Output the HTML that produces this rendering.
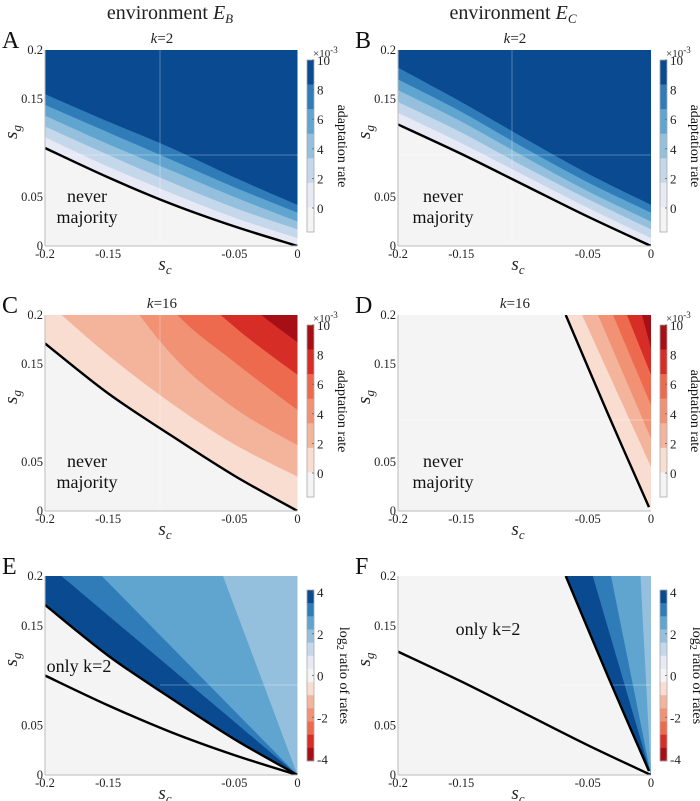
<!DOCTYPE html>
<html><head><meta charset="utf-8"><style>
html,body{margin:0;padding:0;background:#fff}
svg{display:block;font-family:"Liberation Serif",serif}
</style></head><body>
<svg id="fig" width="700" height="801" viewBox="0 0 700 801" xmlns="http://www.w3.org/2000/svg">
<rect width="700" height="801" fill="#fff"/>
<defs id="defs"></defs>
<g id="root"></g>
<text x="170" y="19" font-size="20" text-anchor="middle" fill="#222">environment <tspan font-style="italic">E</tspan><tspan font-size="13" dy="4" font-style="italic">B</tspan></text>
<text x="513" y="19" font-size="20" text-anchor="middle" fill="#222">environment <tspan font-style="italic">E</tspan><tspan font-size="13" dy="4" font-style="italic">C</tspan></text>
</svg>
<script>
// ---------- data ----------
const scGrid = [-0.2, -0.15, -0.1, -0.05, 0];
const xTickVals = [-0.2, -0.15, -0.05, 0];
const xTickLabels = ["-0.2", "-0.15", "-0.05", "0"];
const yTickVals = [0.2, 0.15, 0.05, 0];
const yTickLabels = ["0.2", "0.15", "0.05", "0"];

// Panel A contour boundaries (sg at scGrid), lowest level first
const aBoundary = [0.100, 0.070, 0.043, 0.020, 0.000];
const aLevel1 = [0.111, 0.081, 0.054, 0.029, 0.008];
const aLevel2 = [0.122, 0.093, 0.065, 0.039, 0.017];
const aLevel3 = [0.133, 0.104, 0.077, 0.050, 0.025];
const aLevel4 = [0.144, 0.116, 0.088, 0.060, 0.034];
const aLevel5 = [0.155, 0.127, 0.100, 0.070, 0.042];

// Panel B
const bBoundary = [0.124, 0.094, 0.062, 0.030, 0.000];
const bLevel1 = [0.136, 0.105, 0.072, 0.039, 0.008];
const bLevel2 = [0.147, 0.116, 0.081, 0.048, 0.017];
const bLevel3 = [0.159, 0.127, 0.091, 0.056, 0.025];
const bLevel4 = [0.170, 0.137, 0.100, 0.065, 0.034];
const bLevel5 = [0.182, 0.147, 0.110, 0.074, 0.042];

// Panel C
const cBoundary = [0.171, 0.120, 0.077, 0.036, 0.000];
const cLevel2 = [0.215, 0.159, 0.110, 0.068, 0.035];
const cLevel4 = [0.356, 0.246, 0.160, 0.105, 0.067];
const cLevel6 = [0.410, 0.300, 0.207, 0.152, 0.103];
const cLevel8 = [0.460, 0.350, 0.250, 0.188, 0.139];
const cLevel10 = [0.550, 0.420, 0.310, 0.225, 0.172];

// Panel D (own sc points per curve)
const dBoundarySc = [-0.0674, -0.034, -0.0016];
const dBoundarySg = [0.200, 0.099, 0.004];
const dLevelTopSc = [-0.0545, -0.0419, -0.030, -0.019, -0.0071];
const dLevelRightSg = [0.045, 0.074, 0.108, 0.139, 0.166];

// Panel E wedge lines (sc where each meets sg=0.2, all pass through origin)
const eWedgeTopSc = [-0.187, -0.155, -0.059];
// Panel F wedge lines
const fWedgeTopSc = [-0.046, -0.0316, -0.0083];

const rateTicks = [10, 8, 6, 4, 2, 0];
const ratioTicks = [4, 2, 0, -2, -4];

const blues = ['#e7e9f5', '#c4d7eb', '#94c0dd', '#60a4d0', '#2f7cb9', '#0a4a90'];
const reds = ['#f9ddd1', '#f4b49c', '#f19274', '#ee6a4e', '#d72d27', '#a50f15'];
const rateBarBlue = ['#0a4a90', '#2f7cb9', '#60a4d0', '#94c0dd', '#c4d7eb', '#e7e9f5', '#f4f4f4'];
const rateBarRed = ['#a50f15', '#d72d27', '#ee6a4e', '#f19274', '#f4b49c', '#f9ddd1', '#f4f4f4'];
const ratioBar = ['#0a4a90', '#2f7cb9', '#60a4d0', '#94c0dd', '#c4d7eb', '#e7e9f5', '#f4f4f4', '#f9ddd1', '#f4b49c', '#f19274', '#ee6a4e', '#d72d27', '#a50f15'];
const wedgeColors = ['#0a4a90', '#2f7cb9', '#60a4d0', '#94c0dd'];

// ---------- drawing ----------
const NS = 'http://www.w3.org/2000/svg';
const root = document.getElementById('root');
const defs = document.getElementById('defs');
function mk(tag, attrs, parent) {
  const e = document.createElementNS(NS, tag);
  for (const k in attrs) e.setAttribute(k, attrs[k]);
  (parent || root).appendChild(e);
  return e;
}
function smoothPath(pts) {
  let d = 'M' + pts[0][0].toFixed(2) + ',' + pts[0][1].toFixed(2);
  for (let i = 0; i < pts.length - 1; i++) {
    const p0 = pts[i - 1] || pts[i], p1 = pts[i], p2 = pts[i + 1], p3 = pts[i + 2] || pts[i + 1];
    const c1 = [p1[0] + (p2[0] - p0[0]) / 6, p1[1] + (p2[1] - p0[1]) / 6];
    const c2 = [p2[0] - (p3[0] - p1[0]) / 6, p2[1] - (p3[1] - p1[1]) / 6];
    d += 'C' + c1.map(v => v.toFixed(2)).join(',') + ' ' + c2.map(v => v.toFixed(2)).join(',') + ' ' + p2[0].toFixed(2) + ',' + p2[1].toFixed(2);
  }
  return d;
}

function makePanel(id, letter, x0, x1, yT, yB, title) {
  const g = mk('g', {});
  
  
  const sx = v => x0 + (v + 0.2) / 0.2 * (x1 - x0);
  const sy = v => yB - v / 0.2 * (yB - yT);
  const cp = mk('clipPath', { id: 'clip-' + id }, defs);
  mk('rect', { x: x0, y: yT, width: x1 - x0, height: yB - yT }, cp);
  const plot = mk('g', { 'clip-path': 'url(#clip-' + id + ')' }, g);
  
  
  mk('rect', { x: x0, y: yT, width: x1 - x0, height: yB - yT, fill: '#f4f4f4' }, plot);
  mk('line', { x1: x0, y1: yT, x2: x0, y2: yB, stroke: '#bbb', 'stroke-width': 1 }, g);
  mk('line', { x1: x0, y1: yB, x2: x1, y2: yB, stroke: '#bbb', 'stroke-width': 1 }, g);
  xTickVals.forEach((v, i) => {
    const t = mk('text', { x: sx(v), y: yB + 12, 'font-size': 12.5, 'text-anchor': 'middle', fill: '#222' }, g);
    t.textContent = xTickLabels[i];
    
    
  });
  yTickVals.forEach((v, i) => {
    const t = mk('text', { x: x0 - 2, y: sy(v) + 4, 'font-size': 12.5, 'text-anchor': 'end', fill: '#222' }, g);
    t.textContent = yTickLabels[i];
    
    
  });
  const xl = mk('text', { x: x0 + 120, y: yB + 24, 'font-size': 19, 'font-style': 'italic', fill: '#222', 'text-anchor': 'middle' }, g);
  xl.innerHTML = 's<tspan font-size="13" dy="4">c</tspan>';
  
  
  const yc = (yT + yB) / 2 - 16;
  const yl = mk('text', { x: x0 - 28, y: yc, 'font-size': 19, 'font-style': 'italic', fill: '#222', 'text-anchor': 'middle', transform: 'rotate(-90 ' + (x0 - 28) + ' ' + yc + ')' }, g);
  yl.innerHTML = 's<tspan font-size="13" dy="4">g</tspan>';
  
  
  const L = mk('text', { x: x0 - 43, y: yT - 2, 'font-size': 24, fill: '#111' }, g);
  L.textContent = letter;
  
  
  if (title) {
    const t = mk('text', { x: x0 + 117, y: yT - 7, 'font-size': 15, 'text-anchor': 'middle', fill: '#222' }, g);
    t.innerHTML = '<tspan font-style="italic">k</tspan>=' + title;
    
    
  }
  return { g, plot, sx, sy, x0, x1, yT, yB };
}
function fillAbove(P, scs, sgs, color, name) {
  const pts = scs.map((s, i) => [P.sx(s), P.sy(sgs[i])]);
  const last = pts[pts.length - 1];
  const d = smoothPath(pts) + 'L' + (P.x1 + 5) + ',' + last[1] + 'L' + (P.x1 + 5) + ',' + (P.yT - 200) + 'L' + pts[0][0] + ',' + (P.yT - 200) + 'Z';
  const p = mk('path', { d, fill: color }, P.plot);
  
  
}
function blackLine(P, scs, sgs, name) {
  const pts = scs.map((s, i) => [P.sx(s), P.sy(sgs[i])]);
  const p = mk('path', { d: smoothPath(pts), fill: 'none', stroke: '#000', 'stroke-width': 2.4 }, P.plot);
  
  
}
function faint(P, vx, hy, startX) {
  if (vx !== null) mk('line', { x1: vx, y1: P.yT, x2: vx, y2: P.yB, stroke: '#fff', 'stroke-opacity': 0.3, 'stroke-width': 1 }, P.plot);
  if (hy !== null) mk('line', { x1: startX || P.x0, y1: hy, x2: P.x1, y2: hy, stroke: '#fff', 'stroke-opacity': 0.3, 'stroke-width': 1 }, P.plot);
}
function panelText(P, x, y, lines, name) {
  lines.forEach((s, i) => {
    const t = mk('text', { x, y: y + i * 21, 'font-size': 18, 'text-anchor': 'middle', fill: '#111' }, P.g);
    t.textContent = s;
    
    
  });
}
function colorbar(x, yT, yB, colors, ticks, tMax, tMin, labelHTML, exp, name, labX) {
  const g = mk('g', {});
  
  
  const w = 7, h = (yB - yT) / colors.length;
  colors.forEach((c, i) => {
    const r = mk('rect', { x, y: yT + i * h, width: w, height: h + 0.3, fill: c }, g);
    
    
  });
  mk('rect', { x, y: yT, width: w, height: yB - yT, fill: 'none', stroke: '#aaa', 'stroke-width': 0.8 }, g);
  const ty = v => tMax === 10 ? yT + (10 - v) / 10 * (208 - 60) : yT + 2 + (tMax - v) / (tMax - tMin) * (yB - yT - 4);
  ticks.forEach(v => {
    const y = ty(v);
    mk('line', { x1: x + w - 2, y1: y, x2: x + w, y2: y, stroke: '#666', 'stroke-width': 0.8 }, g);
    const t = mk('text', { x: x + w + 3, y: y + 5, 'font-size': 13, fill: '#222' }, g);
    t.textContent = v;
    
    
  });
  if (exp) {
    const t = mk('text', { x: x + 6, y: yT - 3, 'font-size': 11, fill: '#222' }, g);
    t.innerHTML = '×10<tspan font-size="9" dy="-4">-3</tspan>';
    
    
  }
  const cy = (yT + yB) / 2;
  const lt = mk('text', { x: labX, y: cy, 'font-size': 14, 'text-anchor': 'middle', fill: '#111', transform: 'rotate(90 ' + labX + ' ' + cy + ')' }, g);
  lt.innerHTML = labelHTML;
  
  
}

// Panel A
const A = makePanel('a', 'A', 45, 297.5, 50, 246, '2');
[aBoundary, aLevel1, aLevel2, aLevel3, aLevel4, aLevel5].forEach((c, i) => fillAbove(A, scGrid, c, blues[i], 'contour-band'));
faint(A, 160, 155);
blackLine(A, scGrid, aBoundary, 'majority-boundary');
panelText(A, 87, 202, ['never', 'majority'], 'region-label');
colorbar(307, 60, 232, rateBarBlue, rateTicks, 10, 0, 'adaptation rate', true, 'colorbar-a', 338);

// Panel B
const B = makePanel('b', 'B', 398, 651, 50, 246, '2');
[bBoundary, bLevel1, bLevel2, bLevel3, bLevel4, bLevel5].forEach((c, i) => fillAbove(B, scGrid, c, blues[i], 'contour-band'));
faint(B, 512, 155);
blackLine(B, scGrid, bBoundary, 'majority-boundary');
panelText(B, 443, 202, ['never', 'majority'], 'region-label');
colorbar(660, 60, 232, rateBarBlue, rateTicks, 10, 0, 'adaptation rate', true, 'colorbar-b', 691);

// Panel C
const C = makePanel('c', 'C', 45, 297.5, 315, 511, '16');
[cBoundary, cLevel2, cLevel4, cLevel6, cLevel8, cLevel10].forEach((c, i) => fillAbove(C, scGrid, c, reds[i], 'contour-band'));
faint(C, 160, null);
blackLine(C, scGrid, cBoundary, 'majority-boundary');
panelText(C, 87, 467, ['never', 'majority'], 'region-label');
colorbar(307, 325, 497, rateBarRed, rateTicks, 10, 0, 'adaptation rate', true, 'colorbar-c', 338);

// Panel D
const D = makePanel('d', 'D', 398, 651, 315, 511, '16');
fillAbove(D, dBoundarySc, dBoundarySg, reds[0], 'contour-band');
dLevelTopSc.forEach((s, i) => fillAbove(D, [s, 0], [0.2, dLevelRightSg[i]], reds[i + 1], 'contour-band'));
faint(D, null, 420);
blackLine(D, dBoundarySc, dBoundarySg, 'majority-boundary');
panelText(D, 443, 467, ['never', 'majority'], 'region-label');
colorbar(660, 325, 497, rateBarRed, rateTicks, 10, 0, 'adaptation rate', true, 'colorbar-d', 691);

// Panel E
const E = makePanel('e', 'E', 45, 297.5, 576, 775, null);
fillAbove(E, scGrid, cBoundary, wedgeColors[0], 'ratio-band');
eWedgeTopSc.forEach((s, i) => fillAbove(E, [s, 0], [0.2, 0], wedgeColors[i + 1], 'ratio-band'));
faint(E, null, 685, 160);
blackLine(E, scGrid, cBoundary, 'k16-boundary');
blackLine(E, scGrid, aBoundary, 'k2-boundary');
panelText(E, 79, 672, ['only k=2'], 'region-label');
colorbar(307, 590, 761, ratioBar, ratioTicks, 4, -4, 'log<tspan font-size="10" dy="3">2</tspan><tspan dy="-3"> ratio of rates</tspan>', false, 'colorbar-e', 340);

// Panel F
const F = makePanel('f', 'F', 398, 651, 576, 775, null);
fillAbove(F, dBoundarySc, dBoundarySg, wedgeColors[0], 'ratio-band');
fWedgeTopSc.forEach((s, i) => fillAbove(F, [s, 0], [0.2, 0], wedgeColors[i + 1], 'ratio-band'));
faint(F, null, 685, 560);
blackLine(F, dBoundarySc, dBoundarySg, 'k16-boundary');
blackLine(F, scGrid, bBoundary, 'k2-boundary');
panelText(F, 488, 635, ['only k=2'], 'region-label');
colorbar(660, 590, 761, ratioBar, ratioTicks, 4, -4, 'log<tspan font-size="10" dy="3">2</tspan><tspan dy="-3"> ratio of rates</tspan>', false, 'colorbar-f', 693);
</script>
</body></html>
